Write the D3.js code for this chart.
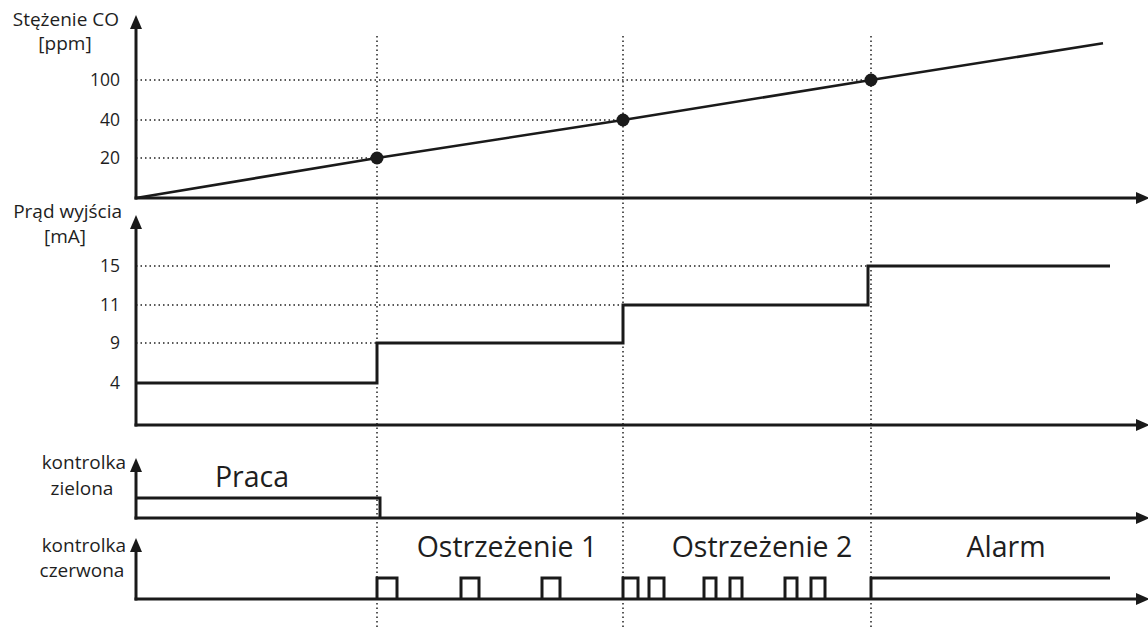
<!DOCTYPE html>
<html><head><meta charset="utf-8">
<script src="https://cdn.jsdelivr.net/npm/d3@7"></script>
<style>
html,body{margin:0;padding:0;background:#fff;}
svg{display:block;font-family:"Open Sans",sans-serif;}
</style></head>
<body>
<svg id="c" width="1148" height="628"></svg>
<script>
// ---- data (time in arbitrary units) ----
const eventTimes = [241, 487, 735];               // thresholds reached
const coPoints = [[0,0],[241,20],[487,40],[735,100],[967,155]];
const coTicks = [20, 40, 100];
const currentSteps = [[0,4],[241,9],[487,11],[732,15],[974,15]];
const currentTicks = [4, 9, 11, 15];
const greenSteps = [[0,1],[244,0]];
const redPulses = [[241,261],[325,343],[406,424],[487,502],[513,528],[568,580],[594,606],[649,661],[675,689]];
const redAlarm = [735, 974];
const stateLabels = [
  {panel:"green", t:116, text:"Praca"},
  {panel:"red", t:371, text:"Ostrzeżenie 1"},
  {panel:"red", t:626, text:"Ostrzeżenie 2"},
  {panel:"red", t:870, text:"Alarm"}
];

const svg = d3.select("#c");
const x = d3.scaleLinear().domain([0, 1012]).range([136, 1148]);
const yCO = d3.scaleLinear().domain([0,20,40,100]).range([198,158,120,80]);
const yI = d3.scaleLinear().domain([0,4,9,11,15]).range([425,383,343,305,266]);
const yG = d3.scaleLinear().domain([0,1]).range([518,498]);
const yR = d3.scaleLinear().domain([0,1]).range([599,578]);

const ink = "#1a1a1a";
const dotted = "#222";

// vertical dotted lines
svg.append("g").selectAll("line").data(eventTimes).join("line")
  .attr("x1", d=>x(d)).attr("x2", d=>x(d)).attr("y1", 36).attr("y2", 628)
  .attr("stroke", dotted).attr("stroke-width", 1.5).attr("stroke-dasharray","1.5,3");

// horizontal dotted gridlines CO
const coGridEnd = {20:eventTimes[0], 40:eventTimes[1], 100:eventTimes[2]};
svg.append("g").selectAll("line").data(coTicks).join("line")
  .attr("x1", x(0)).attr("x2", d=>x(coGridEnd[d])).attr("y1", d=>yCO(d)).attr("y2", d=>yCO(d))
  .attr("stroke", dotted).attr("stroke-width", 1.5).attr("stroke-dasharray","1.5,3");
// current gridlines
const iGridEnd = {4:0, 9:eventTimes[0], 11:eventTimes[1], 15:eventTimes[2]};
svg.append("g").selectAll("line").data(currentTicks.filter(d=>iGridEnd[d]>0)).join("line")
  .attr("x1", x(0)).attr("x2", d=>x(iGridEnd[d])).attr("y1", d=>yI(d)).attr("y2", d=>yI(d))
  .attr("stroke", dotted).attr("stroke-width", 1.5).attr("stroke-dasharray","1.5,3");

// axes with arrows
function axes(yTop, yBase, tipX){
  const g = svg.append("g");
  g.append("line").attr("x1",136).attr("x2",136).attr("y1",yTop+10).attr("y2",yBase+1.5)
    .attr("stroke",ink).attr("stroke-width",3);
  g.append("path").attr("d",`M136,${yTop} L130,${yTop+14} L142,${yTop+14} Z`).attr("fill",ink);
  g.append("line").attr("x1",134.5).attr("x2",tipX-8).attr("y1",yBase).attr("y2",yBase)
    .attr("stroke",ink).attr("stroke-width",3);
  g.append("path").attr("d",`M${tipX},${yBase} L${tipX-14},${yBase-6} L${tipX-14},${yBase+6} Z`).attr("fill",ink);
}
axes(15, yCO(0), 1150);
axes(215, yI(0), 1150);
axes(458, yG(0), 1150);
axes(538, yR(0), 1150);

// tick labels
const tickStyle = s => s.attr("text-anchor","end").attr("font-size",17.5).attr("fill","#1e1e1e");
svg.append("g").selectAll("text").data(coTicks).join("text")
  .attr("x",120).attr("y",d=>yCO(d)+6).text(d=>d).call(tickStyle);
svg.append("g").selectAll("text").data(currentTicks).join("text")
  .attr("x",120).attr("y",d=>yI(d)+6).text(d=>d).call(tickStyle);

// axis titles
const titles = [
  {t:"Stężenie CO", x:119, y:26, a:"end"},
  {t:"[ppm]", x:65, y:50, a:"middle"},
  {t:"Prąd wyjścia", x:122, y:218, a:"end"},
  {t:"[mA]", x:65, y:243, a:"middle"},
  {t:"kontrolka", x:126, y:469, a:"end"},
  {t:"zielona", x:82, y:495, a:"middle"},
  {t:"kontrolka", x:126, y:552, a:"end"},
  {t:"czerwona", x:82, y:577, a:"middle"}
];
svg.append("g").selectAll("text").data(titles).join("text")
  .attr("x",d=>d.x).attr("y",d=>d.y).attr("text-anchor",d=>d.a)
  .attr("font-size",19).attr("fill","#1e1e1e").text(d=>d.t);

// CO line
svg.append("path").datum(coPoints)
  .attr("d", d3.line().x(d=>x(d[0])).y(d=>yCO(d[1])))
  .attr("fill","none").attr("stroke",ink).attr("stroke-width",2.6);
svg.append("g").selectAll("circle").data(coPoints.filter(p=>eventTimes.includes(p[0]))).join("circle")
  .attr("cx",d=>x(d[0])).attr("cy",d=>yCO(d[1])).attr("r",6.5).attr("fill",ink);

// current step line
svg.append("path").datum(currentSteps)
  .attr("d", d3.line().curve(d3.curveStepAfter).x(d=>x(d[0])).y(d=>yI(d[1])))
  .attr("fill","none").attr("stroke",ink).attr("stroke-width",3);

// green indicator
svg.append("path").datum(greenSteps)
  .attr("d", d3.line().curve(d3.curveStepAfter).x(d=>x(d[0])).y(d=>yG(d[1])))
  .attr("fill","none").attr("stroke",ink).attr("stroke-width",3);

// red pulses
svg.append("g").selectAll("path").data(redPulses).join("path")
  .attr("d", d=>`M${x(d[0])},${yR(0)} V${yR(1)} H${x(d[1])} V${yR(0)}`)
  .attr("fill","none").attr("stroke",ink).attr("stroke-width",3);
svg.append("path")
  .attr("d", `M${x(redAlarm[0])},${yR(0)} V${yR(1)} H${x(redAlarm[1])}`)
  .attr("fill","none").attr("stroke",ink).attr("stroke-width",3);

// state labels
svg.append("g").selectAll("text").data(stateLabels).join("text")
  .attr("x",d=>x(d.t)).attr("y",d=>d.panel==="green"?487:557)
  .attr("text-anchor","middle").attr("font-size",28.5).attr("fill","#1e1e1e").text(d=>d.text);
</script>
</body></html>
